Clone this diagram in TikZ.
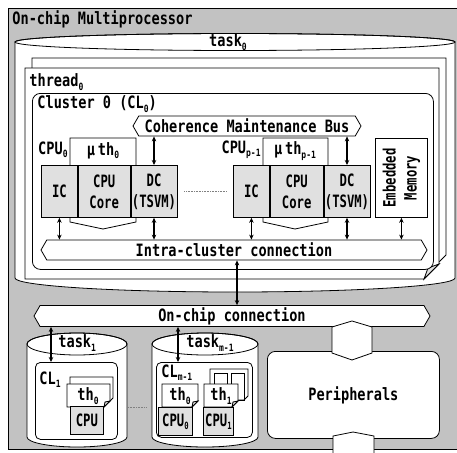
\documentclass[tikz,border=0pt]{standalone}
\usepackage{fontspec}
\newfontfamily\gfont[FakeStretch=0.8]{DejaVu Sans Mono Bold}
\newfontfamily\gnarrow[FakeStretch=0.72]{DejaVu Sans Mono Bold}
\usetikzlibrary{arrows.meta,shapes.symbols,positioning}
\definecolor{chipgray}{gray}{0.76}
\definecolor{unitgray}{gray}{0.88}
\newcommand{\lsub}[1]{\raisebox{-0.35ex}{\fontsize{10}{10}\selectfont #1}}

\begin{document}
\begin{tikzpicture}[x=1pt, y=-1pt, line width=0.8pt,
    txt/.style={font=\gfont\fontsize{17}{21}\selectfont, inner sep=0pt},
    ntxt/.style={font=\gnarrow\fontsize{17}{21}\selectfont, inner sep=0pt},
    bus/.style={draw, fill=white, shape=signal, signal to=east and west,
        signal pointer angle=120, minimum height=20pt, inner sep=0pt, txt},
    unit/.style={draw, fill=unitgray, ntxt, align=center, minimum height=52pt},
    page/.style={draw, fill=white},
    fold/.style={draw, fill=unitgray},
    link/.style={{Stealth[length=5pt,width=4.5pt]}-{Stealth[length=5pt,width=4.5pt]}, line width=1.3pt},
    ]
\useasboundingbox (0,0) rectangle (457,452);
\draw[fill=chipgray] (8,8) rectangle (470,449);
\node[txt, anchor=west] (chip) at (12,19) {On-chip Multiprocessor};

% task 0
\draw[fill=white] (15,42) -- (15,278) arc[start angle=180, end angle=0, x radius=220, y radius=14]
    -- (455,42) arc[start angle=0, end angle=-180, x radius=220, y radius=8.5] -- cycle;
\draw (235,42) ellipse[x radius=220, y radius=8.5];
\node[txt] (task0) at (228,42) {task\lsub{0}};

% threads
\draw[page] (32,58) -- (446,58) -- (446,255) -- (439,262) -- (32,262) -- cycle;
\draw[page] (25,68) -- (439,68) -- (439,264) -- (424,279) -- (25,279) -- cycle;
\draw[fold] (424,279) -- (428,268) -- (439,264) -- cycle;
\node[txt, anchor=west] (thread0) at (29,82) {thread\lsub{0}};

% cluster 0
\node[draw, fill=white, rounded corners=8pt, minimum width=401pt, minimum height=176pt,
    anchor=north west] (CL0) at (32,93) {};
\node[txt, anchor=west] (CL0name) at (37,104) {Cluster 0 (CL\lsub{0})};
\node[bus, minimum width=228pt] (cmb) at (247,126) {Coherence Maintenance Bus};

\draw[page] (70,138) -- (136,138) -- (136,222) -- (103,229) -- (70,222) -- cycle;
\draw[page] (263,138) -- (328,138) -- (328,222) -- (295,229) -- (263,222) -- cycle;
\node[txt] (uth0) at (103,151) {μ\,th\lsub{0}};
\node[txt] (uthp) at (295,151) {μ\,th\lsub{p-1}};
\node[txt, anchor=east] (cpu0) at (68,150) {CPU\lsub{0}};
\node[txt, anchor=east] (cpup) at (261,150) {CPU\lsub{p-1}};

\node[unit, minimum width=36pt, anchor=north west] (ic0) at (41,165) {IC};
\node[unit, minimum width=52pt, right=0pt of ic0] (core0) {CPU\\Core};
\node[unit, minimum width=46pt, right=0pt of core0] (dc0) {DC\\(TSVM)};
\node[unit, minimum width=36pt, anchor=north west] (icp) at (233,165) {IC};
\node[unit, minimum width=53pt, right=0pt of icp] (corep) {CPU\\Core};
\node[unit, minimum width=46pt, right=0pt of corep] (dcp) {DC\\(TSVM)};
\draw[densely dotted, gray, line width=0.6pt] ([xshift=7pt]dc0.east) -- ([xshift=-6pt]icp.west);

\node[draw, fill=white, minimum width=52pt, minimum height=79pt, anchor=north west] (emb) at (375,138) {};
\node[ntxt, rotate=90, align=center] (embtext) at (emb.center) {Embedded\\Memory};

\node[bus, minimum width=386pt] (intra) at (234,250) {Intra-cluster connection};

\foreach \u in {dc0, dcp}
    \draw[link] (cmb.south -| \u.north) -- (\u.north);
\foreach \u in {ic0, dc0, icp, dcp, emb}
    \draw[link] (\u.south) -- (intra.north -| \u.south);

% on-chip connection
\node[bus, minimum width=396pt, minimum height=21pt] (onchip) at (232,316) {On-chip connection};
\draw[link] ([xshift=3pt]intra.south) -- ([xshift=3pt]intra.south |- onchip.north);

% task 1 .. task m-1
\foreach \cx/\rx in {77/50, 205/53} {
    \draw[fill=white] ({\cx-\rx},344) -- ({\cx-\rx},437) arc[start angle=180, end angle=0, x radius=\rx, y radius=10]
        -- ({\cx+\rx},344) arc[start angle=0, end angle=-180, x radius=\rx, y radius=11] -- cycle;
    \draw (\cx,344) ellipse[x radius=\rx, y radius=11];
}
\node[txt, anchor=west] (task1) at (58,343) {task\lsub{1}};
\node[txt, anchor=west] (taskm) at (186,343) {task\lsub{m-1}};
\draw[densely dotted, gray, line width=0.6pt] (128,407) -- (147,407);

\node[draw, fill=white, rounded corners=5pt, minimum width=82pt, minimum height=77pt,
    anchor=north west] (CL1) at (35,362) {};
\node[txt, anchor=west] (CL1name) at (39,380) {CL\lsub{1}};
\draw[page] (70,377) -- (113,377) -- (113,398) -- (109,402) -- (70,402) -- cycle;
\draw[page] (67,384) -- (110,384) -- (110,401) -- (104,407) -- (67,407) -- cycle;
\draw[fold] (104,407) -- (105,402) -- (110,401) -- cycle;
\node[txt] (th0a) at (88,396) {th\lsub{0}};
\node[unit, minimum width=33pt, minimum height=28pt, anchor=north west] (cpuA) at (70,406) {CPU};

\node[draw, fill=white, rounded corners=5pt, minimum width=96pt, minimum height=75pt,
    anchor=north west] (CLm) at (156,362) {};
\node[txt, anchor=west] (CLmname) at (161,373) {CL\lsub{m-1}};
\draw[page] (210,369) -- (248,369) -- (248,396) -- (244,400) -- (210,400) -- cycle;
\draw (214,373) rectangle (227,400);
\draw (231,373) rectangle (244,400);
\draw[page] (162,384) -- (198,384) -- (198,401) -- (192,407) -- (162,407) -- cycle;
\draw[fold] (192,407) -- (193,402) -- (198,401) -- cycle;
\draw[page] (204,384) -- (238,384) -- (238,401) -- (232,407) -- (204,407) -- cycle;
\draw[fold] (232,407) -- (233,402) -- (238,401) -- cycle;
\node[txt] (th0b) at (180,396) {th\lsub{0}};
\node[txt] (th1b) at (221,396) {th\lsub{1}};
\node[unit, minimum width=34pt, minimum height=28pt, anchor=north west] (cpuB) at (158,407) {CPU\lsub{0}};
\node[unit, minimum width=30pt, minimum height=28pt, anchor=north west] (cpuC) at (203,407) {CPU\lsub{1}};

\draw[link] ([xshift=16pt]CL1.north west |- onchip.south) -- ([xshift=16pt]CL1.north west);
\draw[link] ([xshift=22pt]CLm.north west |- onchip.south) -- ([xshift=22pt]CLm.north west);

% peripherals
\node[draw, fill=white, rounded corners=8pt, minimum width=172pt, minimum height=87pt,
    anchor=north west, txt] (peri) at (267,351) {Peripherals};
\draw[fill=white] (332,327) -- (352,321) -- (372,327) -- (372,353) -- (352,360) -- (332,353) -- cycle;
\draw[fill=white] (333,436) -- (353,432) -- (374,436) -- (374,460) -- (333,460) -- cycle;
\end{tikzpicture}
\end{document}
